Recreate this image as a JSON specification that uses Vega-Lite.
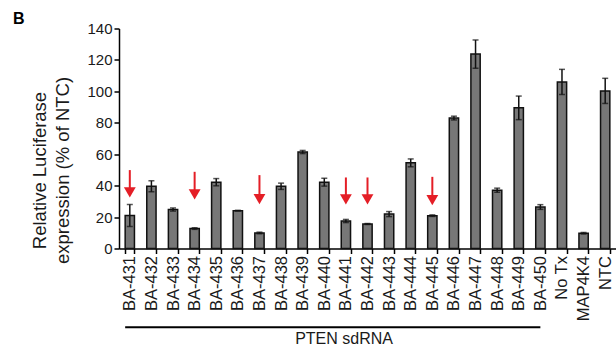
{
  "$schema": "https://vega.github.io/schema/vega-lite/v6.json",
  "autosize": {"type": "none"},
  "width": 497,
  "height": 220,
  "padding": {"left": 119, "top": 28.5, "right": 0, "bottom": 101.5},
  "background": "white",
  "title": {"text": "B", "anchor": "start", "frame": "group", "dx": -106, "offset": 4, "dy": 9.5, "fontSize": 16, "fontWeight": "bold", "font": "Liberation Sans", "color": "#000"},
  "config": {
    "view": {"stroke": null},
    "font": "Liberation Sans",
    "axis": {"domainColor": "#000", "tickColor": "#000", "labelColor": "#1a1a1a", "titleColor": "#1a1a1a", "labelFont": "Liberation Sans", "titleFont": "Liberation Sans", "grid": false, "domainWidth": 1.5, "tickWidth": 1.5}
  },
  "resolve": {"axis": {"y": "independent"}},
  "datasets": {
    "bars": [
      {"sample": "BA-431", "value": 21, "err": 7},
      {"sample": "BA-432", "value": 39.6, "err": 3.5},
      {"sample": "BA-433", "value": 24.8, "err": 1},
      {"sample": "BA-434", "value": 12.7, "err": 0.5},
      {"sample": "BA-435", "value": 42.2, "err": 2.3},
      {"sample": "BA-436", "value": 24.1, "err": 0.2},
      {"sample": "BA-437", "value": 9.9, "err": 0.5},
      {"sample": "BA-438", "value": 39.6, "err": 2},
      {"sample": "BA-439", "value": 61.4, "err": 1},
      {"sample": "BA-440", "value": 42.2, "err": 2.5},
      {"sample": "BA-441", "value": 17.5, "err": 1},
      {"sample": "BA-442", "value": 15.6, "err": 0.3},
      {"sample": "BA-443", "value": 21.9, "err": 1.6},
      {"sample": "BA-444", "value": 54.5, "err": 2.5},
      {"sample": "BA-445", "value": 20.9, "err": 0.5},
      {"sample": "BA-446", "value": 83, "err": 1.2},
      {"sample": "BA-447", "value": 123.7, "err": 9},
      {"sample": "BA-448", "value": 37.1, "err": 1.3},
      {"sample": "BA-449", "value": 89.5, "err": 7.5},
      {"sample": "BA-450", "value": 26.4, "err": 1.5},
      {"sample": "No Tx", "value": 106, "err": 8},
      {"sample": "MAP4K4", "value": 9.7, "err": 0.5},
      {"sample": "NTC", "value": 100.3, "err": 8}
    ],
    "arrows": [
      {"sample": "BA-431", "top": 49.9, "head": 35.7},
      {"sample": "BA-434", "top": 48.8, "head": 34.4},
      {"sample": "BA-437", "top": 46.7, "head": 31.4},
      {"sample": "BA-441", "top": 45.2, "head": 31.2},
      {"sample": "BA-442", "top": 45.2, "head": 31.2},
      {"sample": "BA-445", "top": 45.6, "head": 30.8}
    ],
    "group": [
      {"label": "PTEN sdRNA", "from": "BA-431", "to": "BA-450", "mid": "BA-441", "level": -50.1}
    ]
  },
  "encoding": {
    "x": {
      "field": "sample", "type": "nominal",
      "scale": {"domain": ["BA-431","BA-432","BA-433","BA-434","BA-435","BA-436","BA-437","BA-438","BA-439","BA-440","BA-441","BA-442","BA-443","BA-444","BA-445","BA-446","BA-447","BA-448","BA-449","BA-450","No Tx","MAP4K4","NTC"], "paddingInner": 0.57, "paddingOuter": 0.285},
      "axis": {"title": null, "labelAngle": -90, "labelFontSize": 16.5, "labelPadding": 2, "tickSize": 5, "tickBand": "extent", "labelBaseline": "middle", "labelAlign": "right"}
    }
  },
  "layer": [
    {
      "data": {"name": "bars"},
      "mark": {"type": "bar", "color": "#777777", "stroke": "#111111", "strokeWidth": 1.5},
      "encoding": {
        "y": {
          "field": "value", "type": "quantitative",
          "scale": {"domain": [0, 140], "nice": false},
          "axis": {"title": ["Relative Luciferase", "expression (% of NTC)"], "values": [0,20,40,60,80,100,120,140], "labelFontSize": 15, "titleFontSize": 18.5, "titleFontWeight": "normal", "titleLineHeight": 23, "titleX": -80, "titleY": 141.5, "titleAngle": -90, "titleAlign": "center", "titleBaseline": "middle", "tickSize": 5, "labelPadding": 2}
        }
      }
    },
    {
      "data": {"name": "bars"},
      "mark": {"type": "errorbar", "ticks": {"size": 6, "thickness": 1.5, "color": "#111111"}, "rule": {"strokeWidth": 1.5, "color": "#111111"}},
      "encoding": {
        "y": {"field": "value", "type": "quantitative", "axis": null},
        "yError": {"field": "err"}
      }
    },
    {
      "data": {"name": "arrows"},
      "mark": {"type": "rule", "color": "#e41e26", "strokeWidth": 2},
      "encoding": {
        "y": {"field": "top", "type": "quantitative", "axis": null},
        "y2": {"field": "head"}
      }
    },
    {
      "data": {"name": "arrows"},
      "mark": {"type": "point", "shape": "triangle-down", "filled": true, "size": 140, "color": "#e41e26", "opacity": 1},
      "encoding": {
        "y": {"field": "head", "type": "quantitative", "axis": null}
      }
    },
    {
      "data": {"name": "group"},
      "mark": {"type": "rule", "color": "#000", "strokeWidth": 2},
      "encoding": {
        "x": {"field": "from", "type": "nominal", "bandPosition": 0},
        "x2": {"field": "to", "bandPosition": 0.5},
        "y": {"field": "level", "type": "quantitative", "axis": null}
      }
    },
    {
      "data": {"name": "group"},
      "mark": {"type": "text", "fontSize": 16, "dy": 11.5, "baseline": "middle", "align": "center", "color": "#1a1a1a"},
      "encoding": {
        "x": {"field": "mid", "type": "nominal", "bandPosition": 0.3},
        "y": {"field": "level", "type": "quantitative", "axis": null},
        "text": {"field": "label"}
      }
    }
  ]
}
